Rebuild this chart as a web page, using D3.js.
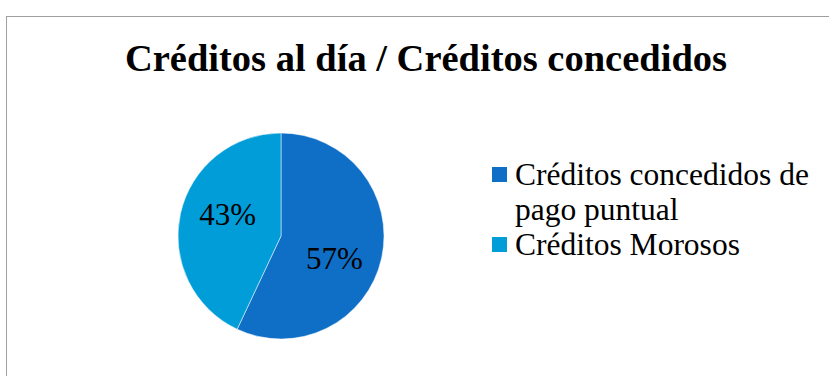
<!DOCTYPE html>
<html>
<head>
<meta charset="utf-8">
<script src="https://cdn.jsdelivr.net/npm/d3@7"></script>
<style>
  html, body { margin: 0; padding: 0; background: #fff; }
  svg { display: block; }
  svg text { font-family: "Liberation Serif", "Times New Roman", Times, serif; }
</style>
</head>
<body>
<svg id="chart" width="829" height="376"></svg>
<script>
// Loan status shares
const categories = ["Créditos concedidos de pago puntual", "Créditos Morosos"];
const legendLines = [["Créditos concedidos de", "pago puntual"], ["Créditos Morosos"]];
const values = [57, 43];
const colors = ["#0F6FC6", "#009DD9"];
const title = "Créditos al día / Créditos concedidos";

const svg = d3.select("#chart");
const W = 829, H = 376;
const serif = '"Liberation Serif", "Times New Roman", Times, serif';

// Chart frame
svg.append("rect")
  .attr("x", 6.5).attr("y", 16.5)
  .attr("width", W).attr("height", H)
  .attr("fill", "#fff").attr("stroke", "#a0a0a0").attr("stroke-width", 1);

// Title
svg.append("text")
  .attr("x", 426).attr("y", 71)
  .attr("text-anchor", "middle")
  .attr("font-family", serif)
  .attr("font-weight", "bold")
  .attr("font-size", 38.5)
  .attr("fill", "#000")
  .text(title);

// Pie, first slice starting at 12 o'clock, clockwise
const cx = 281, cy = 236, r = 103;
const pie = d3.pie().sort(null).value(d => d)(values);
const arc = d3.arc().innerRadius(0).outerRadius(r);
const labelR = r * 0.56;
const labelShift = 0.17; // labels sit slightly clockwise of the slice middle
const labelArc = d3.arc().innerRadius(labelR).outerRadius(labelR);

const g = svg.append("g").attr("transform", `translate(${cx},${cy})`);
g.selectAll("path.slice")
  .data(pie)
  .join("path")
  .attr("class", "slice")
  .attr("d", arc)
  .attr("fill", (d, i) => colors[i])
  .attr("stroke", "#fff")
  .attr("stroke-width", 0.5);

const total = d3.sum(values);
g.selectAll("text.pct")
  .data(pie)
  .join("text")
  .attr("class", "pct")
  .attr("transform", d => {
    const [x, y] = labelArc.centroid({
      startAngle: d.startAngle + labelShift,
      endAngle: d.endAngle + labelShift
    });
    return `translate(${x},${y})`;
  })
  .attr("text-anchor", "middle")
  .attr("dy", "0.36em")
  .attr("font-family", serif)
  .attr("font-size", 31)
  .attr("fill", "#000")
  .text(d => d3.format(".0%")(d.data / total));

// Legend
const legend = svg.append("g").attr("transform", "translate(492,167)");
const lineH = 35;
let row = 0;
legendLines.forEach((lines, i) => {
  const y0 = row * lineH;
  legend.append("rect")
    .attr("x", 0).attr("y", y0)
    .attr("width", 15).attr("height", 15)
    .attr("fill", colors[i]);
  lines.forEach((ln, j) => {
    legend.append("text")
      .attr("x", 23).attr("y", y0 + 17.5 + j * lineH)
      .attr("font-family", serif)
      .attr("font-size", 31.5)
      .attr("fill", "#000")
      .text(ln);
  });
  row += lines.length;
});
</script>
</body>
</html>
